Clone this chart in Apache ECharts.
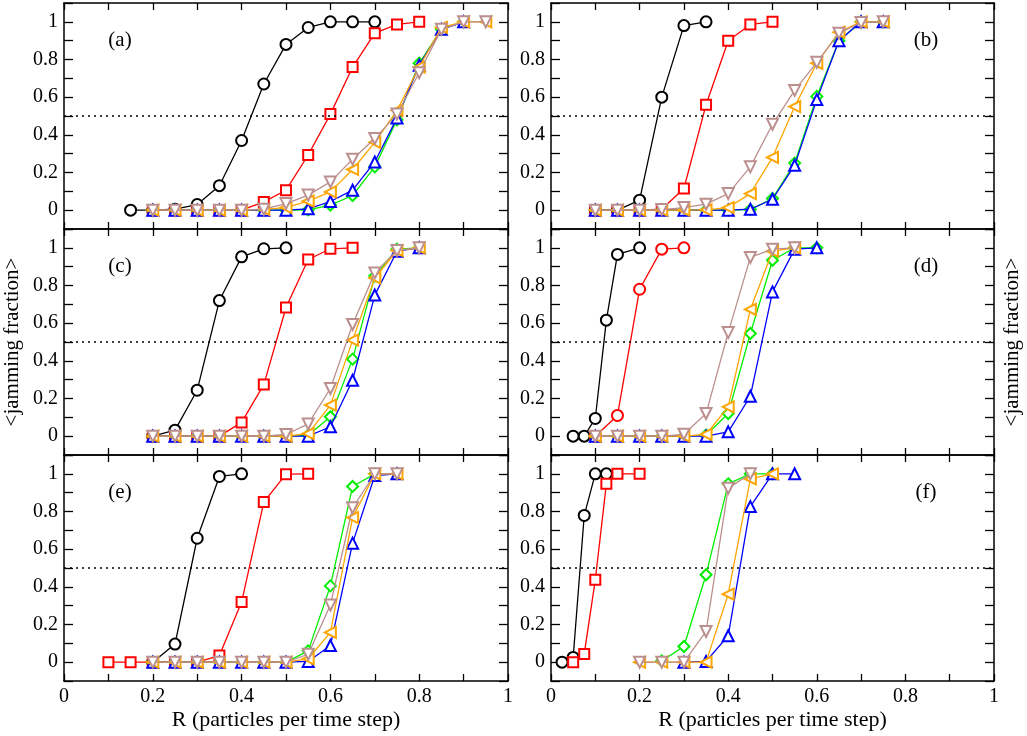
<!DOCTYPE html>
<html>
<head>
<meta charset="utf-8">
<script src="https://cdn.jsdelivr.net/npm/echarts@6/dist/echarts.min.js"></script>
<style>
html, body { margin: 0; padding: 0; background: #fff; }
#chart { width: 1027px; height: 736px; }
</style>
</head>
<body>
<div id="chart"></div>
<script>
// ---------------- data: [R, <jamming fraction>] ----------------
const panelLabels = ['(a)', '(b)', '(c)', '(d)', '(e)', '(f)'];
const tickLabels = ['0', '0.2', '0.4', '0.6', '0.8', '1'];

// (a)
const a_black  = [[0.15,0],[0.2,0],[0.25,0.005],[0.3,0.03],[0.35,0.13],[0.4,0.37],[0.45,0.67],[0.5,0.88],[0.55,0.97],[0.6,1],[0.65,1],[0.7,1]];
const a_red    = [[0.2,0],[0.25,0],[0.3,0],[0.35,0],[0.4,0],[0.45,0.044],[0.5,0.106],[0.55,0.293],[0.6,0.51],[0.65,0.76],[0.7,0.94],[0.75,0.986],[0.8,1]];
const a_green  = [[0.2,0],[0.25,0],[0.3,0],[0.35,0],[0.4,0],[0.45,0],[0.5,0],[0.55,0.002],[0.6,0.027],[0.65,0.078],[0.7,0.23],[0.75,0.48],[0.8,0.78],[0.85,0.96],[0.9,1]];
const a_blue   = [[0.2,0],[0.25,0],[0.3,0],[0.35,0],[0.4,0],[0.45,0],[0.5,0],[0.55,0.007],[0.6,0.046],[0.65,0.106],[0.7,0.256],[0.75,0.49],[0.8,0.77],[0.85,0.96],[0.9,1]];
const a_orange = [[0.2,0],[0.25,0],[0.3,0],[0.35,0],[0.4,0],[0.45,0.004],[0.5,0.014],[0.55,0.048],[0.6,0.097],[0.65,0.216],[0.7,0.36],[0.75,0.53],[0.8,0.76],[0.85,0.97],[0.9,1],[0.95,1]];
const a_tan    = [[0.2,0],[0.25,0],[0.3,0],[0.35,0],[0.4,0],[0.45,0.005],[0.5,0.035],[0.55,0.08],[0.6,0.15],[0.65,0.27],[0.7,0.38],[0.75,0.51],[0.8,0.73],[0.85,0.96],[0.9,1],[0.95,1]];

// (b)
const b_black  = [[0.1,0],[0.15,0],[0.2,0.053],[0.25,0.6],[0.3,0.98],[0.35,1]];
const b_red    = [[0.1,0],[0.15,0],[0.2,0],[0.25,0.005],[0.3,0.115],[0.35,0.56],[0.4,0.9],[0.45,0.986],[0.5,1]];
const b_green  = [[0.1,0],[0.15,0],[0.2,0],[0.25,0],[0.3,0],[0.35,0],[0.4,0],[0.45,0.003],[0.5,0.062],[0.55,0.25],[0.6,0.604],[0.65,0.9],[0.7,1],[0.75,1]];
const b_blue   = [[0.1,0],[0.15,0],[0.2,0],[0.25,0],[0.3,0],[0.35,0],[0.4,0],[0.45,0.005],[0.5,0.058],[0.55,0.238],[0.6,0.587],[0.65,0.9],[0.7,1],[0.75,1]];
const b_orange = [[0.1,0],[0.15,0],[0.2,0],[0.25,0],[0.3,0],[0.35,0.002],[0.4,0.014],[0.45,0.088],[0.5,0.28],[0.55,0.55],[0.6,0.78],[0.65,0.945],[0.7,1],[0.75,1]];
const b_tan    = [[0.1,0],[0.15,0],[0.2,0],[0.25,0.003],[0.3,0.014],[0.35,0.032],[0.4,0.088],[0.45,0.23],[0.5,0.456],[0.55,0.636],[0.6,0.785],[0.65,0.94],[0.7,0.996],[0.75,1]];

// (c)
const c_black  = [[0.2,0],[0.25,0.032],[0.3,0.244],[0.35,0.72],[0.4,0.952],[0.45,0.995],[0.5,1]];
const c_red    = [[0.2,0],[0.25,0],[0.3,0],[0.35,0],[0.4,0.073],[0.45,0.274],[0.5,0.683],[0.55,0.938],[0.6,0.995],[0.65,1]];
const c_green  = [[0.2,0],[0.25,0],[0.3,0],[0.35,0],[0.4,0],[0.45,0],[0.5,0],[0.55,0.005],[0.6,0.103],[0.65,0.409],[0.7,0.85],[0.75,0.993],[0.8,1]];
const c_blue   = [[0.2,0],[0.25,0],[0.3,0],[0.35,0],[0.4,0],[0.45,0],[0.5,0],[0.55,0],[0.6,0.05],[0.65,0.297],[0.7,0.749],[0.75,0.982],[0.8,1]];
const c_orange = [[0.2,0],[0.25,0],[0.3,0],[0.35,0],[0.4,0],[0.45,0],[0.5,0],[0.55,0.014],[0.6,0.165],[0.65,0.51],[0.7,0.84],[0.75,0.986],[0.8,1]];
const c_tan    = [[0.2,0],[0.25,0],[0.3,0],[0.35,0],[0.4,0],[0.45,0],[0.5,0.009],[0.55,0.065],[0.6,0.253],[0.65,0.593],[0.7,0.867],[0.75,0.986],[0.8,1]];

// (d)
const d_black  = [[0.05,0],[0.075,0],[0.1,0.094],[0.125,0.616],[0.15,0.965],[0.2,1]];
const d_red    = [[0.1,0],[0.15,0.11],[0.2,0.78],[0.25,0.993],[0.3,1]];
const d_green  = [[0.1,0],[0.15,0],[0.2,0],[0.25,0],[0.3,0],[0.35,0.005],[0.4,0.12],[0.45,0.545],[0.5,0.934],[0.55,1],[0.6,1]];
const d_blue   = [[0.1,0],[0.15,0],[0.2,0],[0.25,0],[0.3,0],[0.35,0],[0.4,0.023],[0.45,0.212],[0.5,0.766],[0.55,0.993],[0.6,1]];
const d_orange = [[0.1,0],[0.15,0],[0.2,0],[0.25,0],[0.3,0],[0.35,0.009],[0.4,0.156],[0.45,0.673],[0.5,0.982],[0.55,1]];
const d_tan    = [[0.1,0],[0.15,0],[0.2,0],[0.25,0],[0.3,0.01],[0.35,0.12],[0.4,0.55],[0.45,0.949],[0.5,0.993],[0.55,1]];

// (e)
const e_black  = [[0.2,0],[0.25,0.096],[0.3,0.658],[0.35,0.986],[0.4,1]];
const e_red    = [[0.1,0],[0.15,0],[0.2,0],[0.25,0],[0.3,0],[0.35,0.035],[0.4,0.319],[0.45,0.85],[0.5,0.998],[0.55,1]];
const e_green  = [[0.2,0],[0.25,0],[0.3,0],[0.35,0],[0.4,0],[0.45,0],[0.5,0],[0.55,0.06],[0.6,0.405],[0.65,0.933],[0.7,1]];
const e_blue   = [[0.2,0],[0.25,0],[0.3,0],[0.35,0],[0.4,0],[0.45,0],[0.5,0],[0.55,0.004],[0.6,0.088],[0.65,0.632],[0.7,0.991],[0.75,1]];
const e_orange = [[0.2,0],[0.25,0],[0.3,0],[0.35,0],[0.4,0],[0.45,0],[0.5,0],[0.55,0.018],[0.6,0.158],[0.65,0.768],[0.7,1],[0.75,1]];
const e_tan    = [[0.2,0],[0.25,0],[0.3,0],[0.35,0],[0.4,0],[0.45,0],[0.5,0],[0.55,0.042],[0.6,0.304],[0.65,0.82],[0.7,1],[0.75,1]];

// (f)
const f_black  = [[0.025,0],[0.05,0.025],[0.075,0.779],[0.1,1],[0.125,1]];
const f_red    = [[0.05,0],[0.075,0.044],[0.1,0.437],[0.125,0.947],[0.15,1],[0.2,1]];
const f_green  = [[0.25,0.007],[0.3,0.083],[0.35,0.464],[0.4,0.947],[0.45,1],[0.5,1]];
const f_blue   = [[0.3,0],[0.35,0.004],[0.4,0.14],[0.45,0.826],[0.5,1],[0.55,1]];
const f_orange = [[0.2,0],[0.25,0],[0.3,0],[0.35,0],[0.4,0.361],[0.45,0.973],[0.5,1]];
const f_tan    = [[0.2,0],[0.25,0],[0.3,0],[0.35,0.163],[0.4,0.924],[0.45,1]];

const panels = [
    [a_black, a_red, a_green, a_blue, a_orange, a_tan],
    [b_black, b_red, b_green, b_blue, b_orange, b_tan],
    [c_black, c_red, c_green, c_blue, c_orange, c_tan],
    [d_black, d_red, d_green, d_blue, d_orange, d_tan],
    [e_black, e_red, e_green, e_blue, e_orange, e_tan],
    [f_black, f_red, f_green, f_blue, f_orange, f_tan]
];

// ---------------- styles ----------------
const FONT = '"Liberation Serif", "DejaVu Serif", serif';
const colors  = ['#000000', '#ff0000', '#00ee00', '#0000ff', '#ffa500', '#bc8f8f'];
const symbols = ['emptyCircle', 'emptyRect', 'emptyDiamond', 'emptyTriangle', 'emptyTriangle', 'emptyTriangle'];
const symRot  = [0, 0, 0, 0, 90, 180];
const symSize = [11, 10, 11, 11, 11, 11];

// grid layout (px)
const colLeft = [64, 551];
const colWidth = [444, 443];
const rowTop = [3, 229, 455];
const rowHeight = 226;

function tickFmt(v) {
    const k = Math.round(v * 10);
    if (k < 0 || k > 10 || k % 2) return '';
    return tickLabels[k / 2];
}

const grids = [], xAxes = [], yAxes = [], series = [], graphics = [];

const axisLine = { show: true, onZero: false, lineStyle: { color: '#000', width: 1.5 } };

for (let p = 0; p < 6; p++) {
    const col = p % 2, row = Math.floor(p / 2);
    grids.push({ left: colLeft[col], top: rowTop[row], width: colWidth[col], height: rowHeight, show: false });

    const bottomRow = row === 2;
    // bottom + top x axes
    xAxes.push({
        gridIndex: p, type: 'value', min: 0, max: 1, interval: 0.1, position: 'bottom',
        axisLine: axisLine,
        axisTick: { inside: true, length: 7, lineStyle: { color: '#000', width: 1.3 } },
        splitLine: { show: false },
        axisLabel: {
            show: bottomRow, formatter: tickFmt, margin: 6, showMinLabel: true, showMaxLabel: true,
            fontFamily: FONT, fontSize: 20, color: '#000'
        },
        name: bottomRow ? 'R (particles per time step)' : '',
        nameLocation: 'middle', nameGap: 28,
        nameTextStyle: { fontFamily: FONT, fontSize: 22, color: '#000' }
    });
    xAxes.push({
        gridIndex: p, type: 'value', min: 0, max: 1, interval: 0.1, position: 'top',
        axisLine: axisLine,
        axisTick: { inside: true, length: 7, lineStyle: { color: '#000', width: 1.3 } },
        splitLine: { show: false },
        axisLabel: { show: false }
    });
    // left + right y axes
    yAxes.push({
        gridIndex: p, type: 'value', min: -0.1, max: 1.1, interval: 0.1, position: 'left',
        axisLine: axisLine,
        axisTick: { inside: true, length: 9, lineStyle: { color: '#000', width: 1.3 } },
        splitLine: { show: false },
        axisLabel: {
            formatter: tickFmt, margin: 6, fontFamily: FONT, fontSize: 20, color: '#000'
        }
    });
    yAxes.push({
        gridIndex: p, type: 'value', min: -0.1, max: 1.1, interval: 0.1, position: 'right',
        axisLine: axisLine,
        axisTick: { inside: true, length: 9, lineStyle: { color: '#000', width: 1.3 } },
        splitLine: { show: false },
        axisLabel: { show: false }
    });

    panels[p].forEach((data, s) => {
        // panel (d) uses circles for the red series too
        const sym = (p === 3 && s === 1) ? 'emptyCircle' : symbols[s];
        const sz = (p === 3 && s === 1) ? 11 : symSize[s];
        const ser = {
            type: 'line', xAxisIndex: 2 * p, yAxisIndex: 2 * p,
            data: data, symbol: sym, symbolSize: sz, symbolRotate: symRot[s],
            showAllSymbol: true, animation: false, z: 3 + s,
            lineStyle: { color: colors[s], width: 1.3 },
            itemStyle: { color: colors[s], borderColor: colors[s], borderWidth: 1.2 }
        };
        if (s === 0) {
            ser.markLine = {
                silent: true, symbol: ['none', 'none'], animation: false,
                label: { show: false },
                lineStyle: { type: [2, 4], color: '#000', width: 1.5 },
                data: [{ yAxis: 0.5 }]
            };
        }
        series.push(ser);
    });

    graphics.push({
        type: 'text',
        x: col === 0 ? 120 : 926,
        y: rowTop[row] + 37,
        style: { text: panelLabels[p], font: '21px ' + FONT, fill: '#000', align: 'center', verticalAlign: 'middle' }
    });
}

// y-axis titles on both sides
[12, 1012].forEach(x => {
    graphics.push({
        type: 'text', x: x, y: 342, rotation: Math.PI / 2,
        style: { text: '<jamming fraction>', font: '21px ' + FONT, fill: '#000', align: 'center', verticalAlign: 'middle' }
    });
});

const chart = echarts.init(document.getElementById('chart'), null, { renderer: 'canvas' });
chart.setOption({
    animation: false,
    backgroundColor: '#fff',
    grid: grids,
    xAxis: xAxes,
    yAxis: yAxes,
    series: series,
    graphic: graphics
});
</script>
</body>
</html>
